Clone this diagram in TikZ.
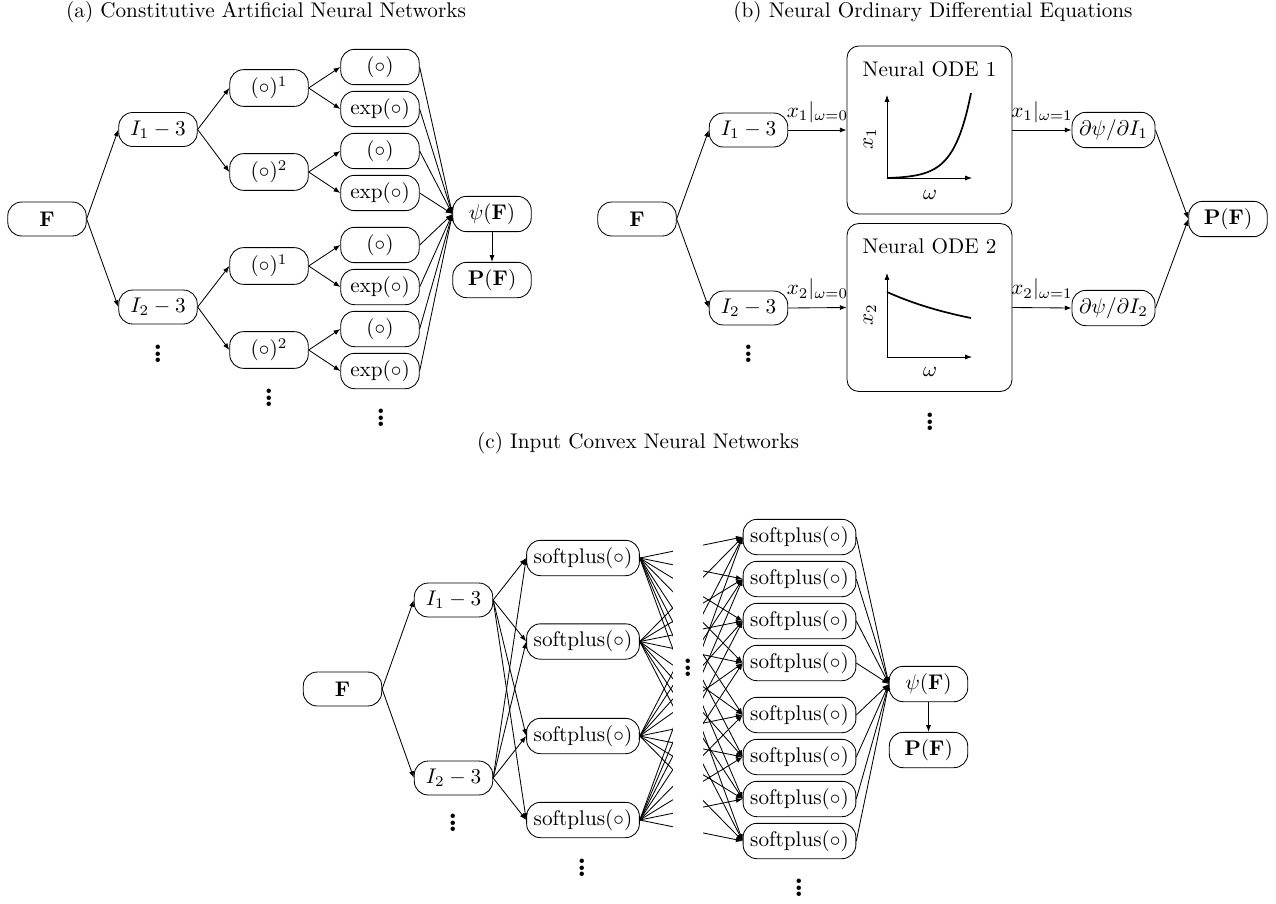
\documentclass[tikz,border=0pt]{standalone}
\usepackage{amsmath}
\usepackage{amssymb}
\usetikzlibrary{arrows.meta}

\tikzset{
  neuron/.style={draw, rounded corners=6.5pt, minimum width=37pt, minimum height=16pt},
  odebox/.style={draw, rounded corners=5.5pt, minimum width=77.8pt, minimum height=79.2pt},
  link/.style={-{Latex[length=3.2pt,width=2.4pt]}},
  moredots/.style={inner sep=0pt, anchor=south, font=\Large\bfseries,
    node contents={\vbox{\baselineskip3pt\lineskiplimit0pt\hbox{.}\hbox{.}\hbox{.}}}}
}

\begin{document}
\begin{tikzpicture}[x=0.4717pt, y=-0.4717pt]
    \useasboundingbox (0,0) rectangle (1276,903);

    % (a) CANN
    \node (ta) at (266,12) {(a) Constitutive Artificial Neural Networks};
    \node[neuron] (Fa) at (47,219) {$\mathbf{F}$};
    \node[neuron] (I1a) at (158,129.5) {$I_1-3$};
    \node[neuron] (I2a) at (158,307) {$I_2-3$};
    \node[neuron] (p11) at (269,88) {$(\circ)^1$};
    \node[neuron] (p12) at (269,172) {$(\circ)^2$};
    \node[neuron] (p21) at (269,266) {$(\circ)^1$};
    \node[neuron] (p22) at (269,350) {$(\circ)^2$};
    \foreach \n/\y in {1/67,3/151,5/245,7/329}
        \node[neuron] (la\n) at (380,\y) {$(\circ)$};
    \foreach \n/\y in {2/109,4/193,6/287,8/371}
        \node[neuron] (la\n) at (380,\y) {$\exp(\circ)$};
    \node[neuron] (psia) at (492,214) {$\psi(\mathbf{F})$};
    \node[neuron] (Pa) at (492,280) {$\mathbf{P}(\mathbf{F})$};

    \draw[link] (Fa.east) -- (I1a.west);
    \draw[link] (Fa.east) -- (I2a.west);
    \foreach \a/\b in {I1a/p11,I1a/p12,I2a/p21,I2a/p22}
        \draw[link] (\a.east) -- (\b.west);
    \foreach \a/\b in {p11/1,p11/2,p12/3,p12/4,p21/5,p21/6,p22/7,p22/8}
        \draw[link] (\a.east) -- (la\b.west);
    \foreach \n in {1,...,8}
        \draw[link] (la\n.east) -- (psia.west);
    \draw[link] (psia) -- (Pa);

    \node (da1) at (158,363) [moredots];
    \node (da2) at (269,407) [moredots];
    \node (da3) at (381,427) [moredots];

    % (b) Neural ODE
    \node (tb) at (933,12) {(b) Neural Ordinary Differential Equations};
    \node[neuron] (Fb) at (637,219) {$\mathbf{F}$};
    \node[neuron] (I1b) at (748.5,130) {$I_1-3$};
    \node[neuron] (I2b) at (748.5,308) {$I_2-3$};
    \node[odebox] (ode1) at (929.5,130) {};
    \node[odebox] (ode2) at (929.5,307.5) {};
    \node[neuron] (dp1) at (1113.5,130) {$\partial\psi/\partial I_1$};
    \node[neuron] (dp2) at (1113.5,308) {$\partial\psi/\partial I_2$};
    \node[neuron] (Pb) at (1228,219) {$\mathbf{P}(\mathbf{F})$};

    \node (n1) at (929.5,69) {Neural ODE 1};
    \draw[link] (887,178) -- (887,95);
    \draw[link] (887,178) -- (972,178);
    \draw[thick] plot[domain=0:1, samples=40] ({887+84*\x},{178-85*(exp(5*\x)-1)/(exp(5)-1)});
    \node[rotate=90] (y1) at (870,139) {$x_1$};
    \node (w1) at (930,195) {$\omega$};

    \node (n2) at (929.5,246.5) {Neural ODE 2};
    \draw[link] (887,357) -- (887,273);
    \draw[link] (887,357) -- (972,357);
    \draw[thick] plot[domain=0:1, samples=40] ({887+84*\x},{292+26*(1-exp(-0.8*\x))/(1-exp(-0.8))});
    \node[rotate=90] (y2) at (870,315) {$x_2$};
    \node (w2) at (930,372) {$\omega$};

    \draw[link] (Fb.east) -- (I1b.west);
    \draw[link] (Fb.east) -- (I2b.west);
    \draw[link] (I1b.east) -- node[above] {$x_1|_{\omega=0}$} (ode1.west);
    \draw[link] (I2b.east) -- node[above] {$x_2|_{\omega=0}$} (ode2.west);
    \draw[link] (ode1.east) -- node[above] {$x_1|_{\omega=1}$} (dp1.west);
    \draw[link] (ode2.east) -- node[above] {$x_2|_{\omega=1}$} (dp2.west);
    \draw[link] (dp1.east) -- (Pb.west);
    \draw[link] (dp2.east) -- (Pb.west);

    \node (db1) at (748.5,363) [moredots];
    \node (db2) at (930,431) [moredots];

    % (c) ICNN
    \node (tc) at (638,443) {(c) Input Convex Neural Networks};
    \node[neuron] (Fc) at (342.5,689) {$\mathbf{F}$};
    \node[neuron] (I1c) at (453.5,600) {$I_1-3$};
    \node[neuron] (I2c) at (453.5,778) {$I_2-3$};
    \foreach \n/\y in {1/558,2/641.5,3/736,4/820}
        \node[neuron] (sl\n) at (583,\y) {$\mathrm{softplus}(\circ)$};
    \foreach \n/\y in {1/537,2/579,3/621,4/663,5/715,6/757,7/799,8/841}
        \node[neuron] (sr\n) at (799.5,\y) {$\mathrm{softplus}(\circ)$};
    \node[neuron] (psic) at (928.5,684) {$\psi(\mathbf{F})$};
    \node[neuron] (Pc) at (928.5,750) {$\mathbf{P}(\mathbf{F})$};

    \draw[link] (Fc.east) -- (I1c.west);
    \draw[link] (Fc.east) -- (I2c.west);
    \foreach \n in {1,...,4} {
        \draw[link] (I1c.east) -- (sl\n.west);
        \draw[link] (I2c.east) -- (sl\n.west);
    }
    \foreach \i in {1,...,4}
        \foreach \j in {1,...,8}
            \draw[link] (sl\i.east) -- (sr\j.west);
    \fill[white] (673,500) rectangle (703,880);
    \foreach \n in {1,...,8}
        \draw[link] (sr\n.east) -- (psic.west);
    \draw[link] (psic) -- (Pc);

    \node (dc1) at (453,832) [moredots];
    \node (dc2) at (582,877) [moredots];
    \node (dc3) at (688,677) [moredots];
    \node (dc4) at (799,897) [moredots];
\end{tikzpicture}
\end{document}
